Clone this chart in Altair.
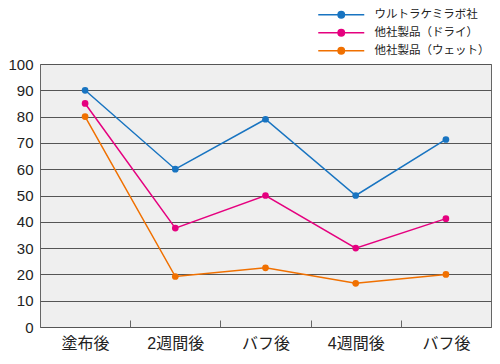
import json
import altair as alt
import pandas as pd

categories = ["塗布後", "2週間後", "バフ後", "4週間後", "バフ後"]
series = ["ウルトラケミラボ社", "他社製品（ドライ）", "他社製品（ウェット）"]
ultra = [90, 60, 79, 50, 71.3]
dry = [85, 37.6, 50, 30, 41.2]
wet = [80, 19.2, 22.5, 16.6, 20]
colors = ["#1874c1", "#e5007f", "#f07000"]
y_ticks = list(range(0, 101, 10))

rows = []
for name, vals in zip(series, [ultra, dry, wet]):
    for i, v in enumerate(vals):
        rows.append({"pos": i, "series": name, "value": v})
df = pd.DataFrame(rows)

label_expr = json.dumps(categories, ensure_ascii=False) + "[datum.value]"
FONT = "Liberation Sans, Noto Sans CJK JP, sans-serif"

legend_symbol = ("M-5.75,0H5.75M0.8,0A0.8,0.8,0,1,1,-0.8,0"
                 "A0.8,0.8,0,1,1,0.8,0Z")

chart = alt.Chart(df).mark_line(
    strokeWidth=1.5,
    point=alt.OverlayMarkDef(filled=True, size=45, opacity=1),
).encode(
    x=alt.X(
        "pos:O",
        bandPosition=0.5,
        scale=alt.Scale(type="band", paddingInner=0, paddingOuter=0),
        axis=alt.Axis(
            title=None,
            labelExpr=label_expr,
            labelAngle=0,
            labelFont=FONT,
            labelFontSize=16,
            labelColor="#222",
            tickBand="extent",
            tickSize=7,
            tickColor="#666",
            offset=-7,
            labelPadding=8,
            domain=False,
            grid=False,
        ),
    ),
    y=alt.Y(
        "value:Q",
        scale=alt.Scale(domain=[0, 100], nice=False),
        axis=alt.Axis(
            title=None,
            values=y_ticks,
            ticks=False,
            domain=False,
            grid=True,
            gridColor="#555",
            gridWidth=1,
            labelFont=FONT,
            labelFontSize=15,
            labelColor="#222",
            labelPadding=7,
        ),
    ),
    color=alt.Color(
        "series:N",
        scale=alt.Scale(domain=series, range=colors),
        legend=alt.Legend(
            title=None,
            orient="none",
            legendX=295.5,
            legendY=-55,
            direction="vertical",
            symbolType=legend_symbol,
            symbolSize=64,
            symbolStrokeWidth=1.5,
            labelFont=FONT,
            labelFontSize=11.5,
            labelColor="#222",
            labelOffset=27.5,
            labelLimit=300,
            rowPadding=5,
            padding=0,
        ),
    ),
    order="pos:O",
).properties(
    width=451,
    height=263,
    autosize=alt.AutoSizeParams(type="none"),
    padding={"left": 32, "top": 56, "right": 1, "bottom": 25},
).configure_view(
    fill="#efefef",
    stroke="#666",
    strokeWidth=1,
)

chart.save("out.html", embed_options={"renderer": "svg", "actions": False})
